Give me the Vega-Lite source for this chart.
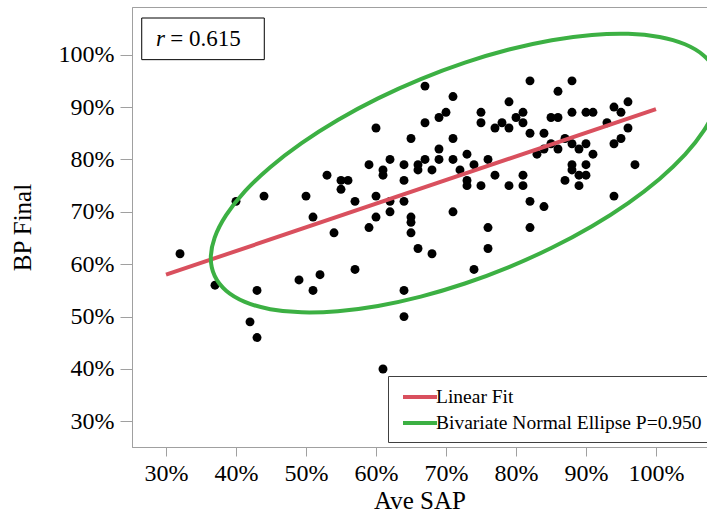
{
  "$schema": "https://vega.github.io/schema/vega-lite/v6.json",
  "width": 575,
  "height": 440,
  "autosize": {"type": "none"},
  "padding": {"left": 132, "top": 7, "right": 0, "bottom": 66},
  "background": "white",
  "config": {
    "view": {"stroke": "#a0a0a0", "strokeWidth": 1},
    "font": "Liberation Serif",
    "axis": {"labelFont": "Liberation Serif", "titleFont": "Liberation Serif", "labelColor": "#000", "titleColor": "#000", "titleFontWeight": "normal", "domainColor": "#a0a0a0", "tickColor": "#a0a0a0", "grid": false}
  },
  "datasets": {
    "points": [
      {"x":32,"y":62},{"x":40,"y":72},{"x":44,"y":73},{"x":50,"y":73},{"x":51,"y":69},{"x":54,"y":66},
      {"x":37,"y":56},{"x":43,"y":55},{"x":49,"y":57},{"x":52,"y":58},{"x":51,"y":55},{"x":57,"y":59},
      {"x":42,"y":49},{"x":43,"y":46},{"x":53,"y":77},{"x":55,"y":76},{"x":56,"y":76},{"x":55,"y":74.3},
      {"x":57,"y":72},{"x":60,"y":73},{"x":62,"y":72},{"x":62,"y":70},{"x":60,"y":69},{"x":59,"y":67},
      {"x":64,"y":76},{"x":64,"y":72},{"x":65,"y":69},{"x":65,"y":68},{"x":65,"y":66},{"x":66,"y":63},
      {"x":68,"y":62},{"x":71,"y":70},{"x":73,"y":76},{"x":73,"y":75},{"x":75,"y":75},{"x":79,"y":75},
      {"x":81,"y":75},{"x":82,"y":72},{"x":84,"y":71},{"x":76,"y":67},{"x":82,"y":67},{"x":76,"y":63},
      {"x":74,"y":59},{"x":87,"y":76},{"x":89,"y":75},{"x":94,"y":73},{"x":64,"y":55},{"x":64,"y":50},
      {"x":61,"y":40},
      {"x":67,"y":94},{"x":71,"y":92},{"x":70,"y":89},{"x":69,"y":88},{"x":67,"y":87},{"x":75,"y":89},
      {"x":75,"y":87},{"x":60,"y":86},{"x":65,"y":84},{"x":71,"y":84},{"x":69,"y":82},{"x":73,"y":81},
      {"x":62,"y":80},{"x":67,"y":80},{"x":69,"y":80},{"x":71,"y":80},{"x":76,"y":80},{"x":59,"y":79},
      {"x":64,"y":79},{"x":66,"y":79},{"x":66,"y":78},{"x":68,"y":78},{"x":72,"y":78},{"x":74,"y":79},
      {"x":61,"y":78},{"x":61,"y":77},
      {"x":82,"y":95},{"x":88,"y":95},{"x":86,"y":93},{"x":79,"y":91},{"x":81,"y":89},{"x":80,"y":88},
      {"x":81,"y":87},{"x":78,"y":87},{"x":77,"y":86},{"x":79,"y":86},{"x":82,"y":85},{"x":84,"y":85},
      {"x":85,"y":88},{"x":86,"y":88},{"x":88,"y":89},{"x":90,"y":89},{"x":91,"y":89},{"x":94,"y":90},
      {"x":96,"y":91},{"x":95,"y":89},{"x":93,"y":87},{"x":96,"y":86},{"x":95,"y":84},{"x":94,"y":83},
      {"x":97,"y":79},{"x":85,"y":83},{"x":87,"y":84},{"x":88,"y":83},{"x":90,"y":83},{"x":89,"y":82},
      {"x":91,"y":81},{"x":86,"y":82},{"x":84,"y":82},{"x":83,"y":81},{"x":88,"y":79},{"x":90,"y":79},
      {"x":88,"y":78},{"x":89,"y":77},{"x":90,"y":77},{"x":77,"y":77},{"x":81,"y":77}
    ],
    "fit": [
      {"series": "Linear Fit", "x": 30, "y": 58.0},
      {"series": "Linear Fit", "x": 100, "y": 89.6}
    ],
    "ellipse": [
      {"series":"Bivariate Normal Ellipse P=0.950","t":0,"x":109.0,"y":93.63},
      {"series":"Bivariate Normal Ellipse P=0.950","t":10,"x":108.45,"y":97.04},
      {"series":"Bivariate Normal Ellipse P=0.950","t":20,"x":106.81,"y":99.86},
      {"series":"Bivariate Normal Ellipse P=0.950","t":30,"x":104.14,"y":101.99},
      {"series":"Bivariate Normal Ellipse P=0.950","t":40,"x":100.51,"y":103.38},
      {"series":"Bivariate Normal Ellipse P=0.950","t":50,"x":96.03,"y":103.98},
      {"series":"Bivariate Normal Ellipse P=0.950","t":60,"x":90.85,"y":103.76},
      {"series":"Bivariate Normal Ellipse P=0.950","t":70,"x":85.11,"y":102.76},
      {"series":"Bivariate Normal Ellipse P=0.950","t":80,"x":79.0,"y":100.98},
      {"series":"Bivariate Normal Ellipse P=0.950","t":90,"x":72.7,"y":98.48},
      {"series":"Bivariate Normal Ellipse P=0.950","t":100,"x":66.4,"y":95.34},
      {"series":"Bivariate Normal Ellipse P=0.950","t":110,"x":60.29,"y":91.66},
      {"series":"Bivariate Normal Ellipse P=0.950","t":120,"x":54.55,"y":87.54},
      {"series":"Bivariate Normal Ellipse P=0.950","t":130,"x":49.37,"y":83.12},
      {"series":"Bivariate Normal Ellipse P=0.950","t":140,"x":44.89,"y":78.52},
      {"series":"Bivariate Normal Ellipse P=0.950","t":150,"x":41.26,"y":73.89},
      {"series":"Bivariate Normal Ellipse P=0.950","t":160,"x":38.59,"y":69.36},
      {"series":"Bivariate Normal Ellipse P=0.950","t":170,"x":36.95,"y":65.08},
      {"series":"Bivariate Normal Ellipse P=0.950","t":180,"x":36.4,"y":61.17},
      {"series":"Bivariate Normal Ellipse P=0.950","t":190,"x":36.95,"y":57.76},
      {"series":"Bivariate Normal Ellipse P=0.950","t":200,"x":38.59,"y":54.94},
      {"series":"Bivariate Normal Ellipse P=0.950","t":210,"x":41.26,"y":52.81},
      {"series":"Bivariate Normal Ellipse P=0.950","t":220,"x":44.89,"y":51.42},
      {"series":"Bivariate Normal Ellipse P=0.950","t":230,"x":49.37,"y":50.82},
      {"series":"Bivariate Normal Ellipse P=0.950","t":240,"x":54.55,"y":51.04},
      {"series":"Bivariate Normal Ellipse P=0.950","t":250,"x":60.29,"y":52.04},
      {"series":"Bivariate Normal Ellipse P=0.950","t":260,"x":66.4,"y":53.82},
      {"series":"Bivariate Normal Ellipse P=0.950","t":270,"x":72.7,"y":56.32},
      {"series":"Bivariate Normal Ellipse P=0.950","t":280,"x":79.0,"y":59.46},
      {"series":"Bivariate Normal Ellipse P=0.950","t":290,"x":85.11,"y":63.14},
      {"series":"Bivariate Normal Ellipse P=0.950","t":300,"x":90.85,"y":67.26},
      {"series":"Bivariate Normal Ellipse P=0.950","t":310,"x":96.03,"y":71.68},
      {"series":"Bivariate Normal Ellipse P=0.950","t":320,"x":100.51,"y":76.28},
      {"series":"Bivariate Normal Ellipse P=0.950","t":330,"x":104.14,"y":80.91},
      {"series":"Bivariate Normal Ellipse P=0.950","t":340,"x":106.81,"y":85.44},
      {"series":"Bivariate Normal Ellipse P=0.950","t":350,"x":108.45,"y":89.72}
    ],
    "annot": [
      {"x1": 26.53, "x2": 44.04, "y1": 107.0, "y2": 99.05}
    ],
    "rlabel": [
      {"label": "r", "x": 28.57, "y": 103.05}
    ],
    "vlabel": [
      {"label": "= 0.615", "x": 30.6, "y": 103.05}
    ]
  },
  "layer": [
    {
      "data": {"name": "points"},
      "mark": {"type": "circle", "size": 80, "color": "black", "opacity": 1},
      "encoding": {
        "x": {
          "field": "x", "type": "quantitative",
          "scale": {"domain": [25.14, 107.29], "nice": false, "zero": false},
          "axis": {
            "title": "Ave SAP", "titleFontSize": 25, "titlePadding": 3,
            "values": [25,30,35,40,45,50,55,60,65,70,75,80,85,90,95,100,105],
            "labelExpr": "datum.value % 10 === 0 ? datum.value + '%' : ''",
            "tickSize": {"condition": {"test": "datum.value % 10 === 0", "value": 9}, "value": 5},
            "labelFontSize": 24, "labelPadding": 5, "labelFlush": false, "labelOverlap": false
          }
        },
        "y": {
          "field": "y", "type": "quantitative",
          "scale": {"domain": [25.11, 109.1], "nice": false, "zero": false},
          "axis": {
            "title": "BP Final", "titleFontSize": 25, "titlePadding": 23,
            "values": [30,35,40,45,50,55,60,65,70,75,80,85,90,95,100,105],
            "labelExpr": "datum.value % 10 === 0 ? datum.value + '%' : ''",
            "tickSize": {"condition": {"test": "datum.value % 10 === 0", "value": 12}, "value": 6},
            "labelFontSize": 24, "labelPadding": 6, "labelFlush": false, "labelOverlap": false
          }
        }
      }
    },
    {
      "data": {"name": "fit"},
      "mark": {"type": "line", "strokeWidth": 4, "clip": true},
      "encoding": {
        "x": {"field": "x", "type": "quantitative"},
        "y": {"field": "y", "type": "quantitative"},
        "color": {
          "field": "series", "type": "nominal",
          "scale": {"domain": ["Linear Fit", "Bivariate Normal Ellipse P=0.950"], "range": ["#d9505e", "#3cb043"]},
          "legend": {
            "title": null, "orient": "none", "legendX": 256, "legendY": 369,
            "symbolType": "M-1.7,0H1.7", "symbolSize": 400, "symbolStrokeWidth": 4,
            "labelFontSize": 19.5, "labelFont": "Liberation Serif", "labelColor": "#000", "labelLimit": 0,
            "padding": 9, "strokeColor": "#404040", "fillColor": "white",
            "symbolOffset": 11, "labelOffset": 4, "rowPadding": 4
          }
        }
      }
    },
    {
      "data": {"name": "ellipse"},
      "mark": {"type": "line", "strokeWidth": 4, "clip": true, "interpolate": "cardinal-closed"},
      "encoding": {
        "x": {"field": "x", "type": "quantitative"},
        "y": {"field": "y", "type": "quantitative"},
        "order": {"field": "t", "type": "quantitative"},
        "color": {"field": "series", "type": "nominal"}
      }
    },
    {
      "data": {"name": "annot"},
      "mark": {"type": "rect", "fill": "white", "stroke": "black", "strokeWidth": 1},
      "encoding": {
        "x": {"field": "x1", "type": "quantitative"},
        "x2": {"field": "x2"},
        "y": {"field": "y1", "type": "quantitative"},
        "y2": {"field": "y2"}
      }
    },
    {
      "data": {"name": "rlabel"},
      "mark": {"type": "text", "align": "left", "baseline": "middle", "fontSize": 23, "font": "Liberation Serif", "fontStyle": "italic", "color": "black"},
      "encoding": {
        "x": {"field": "x", "type": "quantitative"},
        "y": {"field": "y", "type": "quantitative"},
        "text": {"field": "label"}
      }
    },
    {
      "data": {"name": "vlabel"},
      "mark": {"type": "text", "align": "left", "baseline": "middle", "fontSize": 23, "font": "Liberation Serif", "color": "black"},
      "encoding": {
        "x": {"field": "x", "type": "quantitative"},
        "y": {"field": "y", "type": "quantitative"},
        "text": {"field": "label"}
      }
    }
  ]
}
